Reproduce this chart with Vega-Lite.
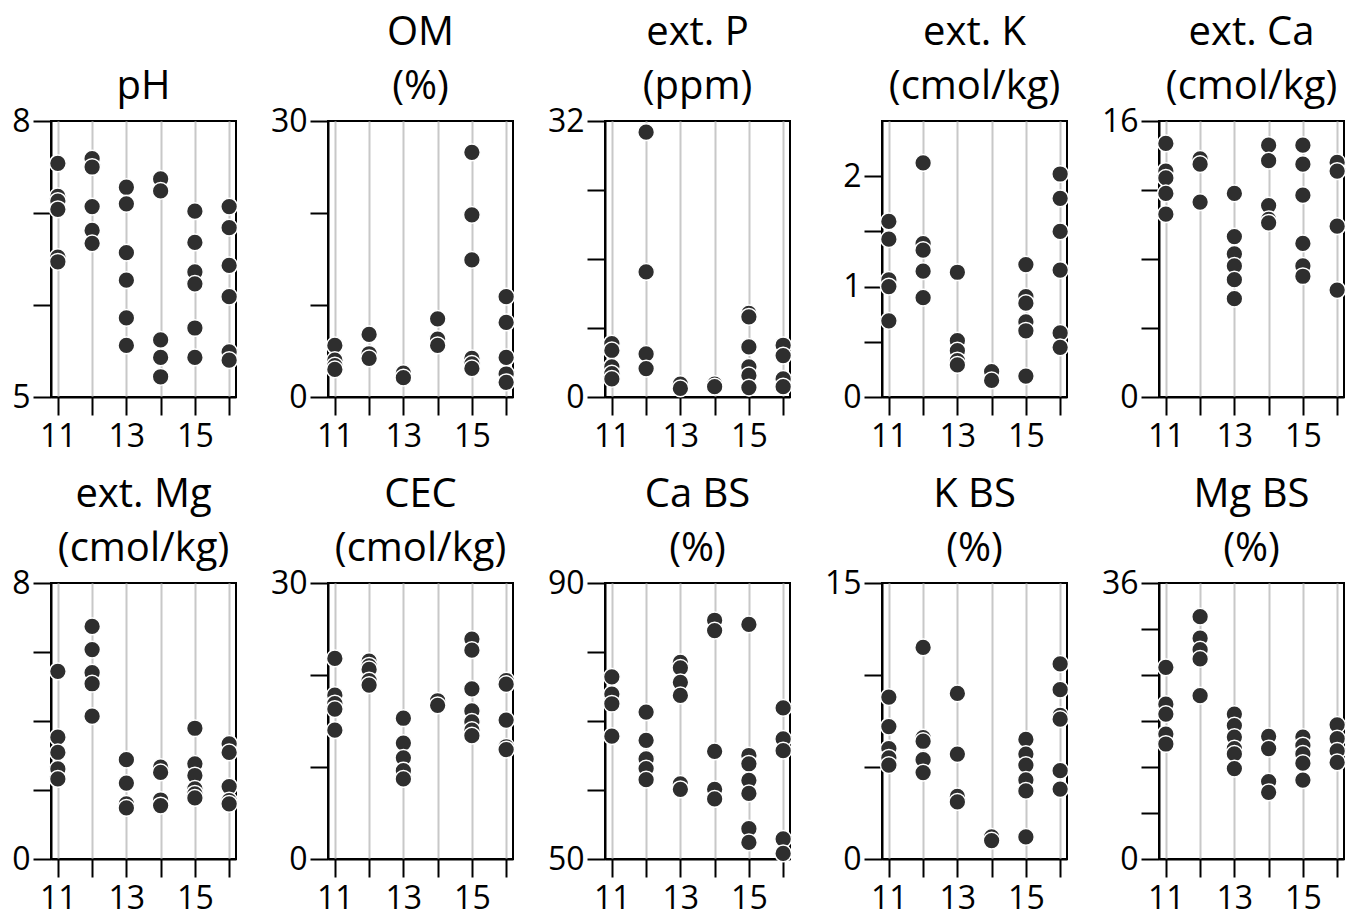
{
  "$schema": "https://vega.github.io/schema/vega-lite/v6.json",
  "background": "white",
  "padding": {"left": 10, "top": 12, "right": 5, "bottom": 56},
  "datasets": {
    "pH": [
      {"yr": 11, "v": 7.54}, {"yr": 11, "v": 7.18}, {"yr": 11, "v": 7.13}, {"yr": 11, "v": 7.04}, {"yr": 11, "v": 6.52}, {"yr": 11, "v": 6.47},
      {"yr": 12, "v": 7.59}, {"yr": 12, "v": 7.5}, {"yr": 12, "v": 7.07}, {"yr": 12, "v": 6.81}, {"yr": 12, "v": 6.67},
      {"yr": 13, "v": 7.28}, {"yr": 13, "v": 7.1}, {"yr": 13, "v": 6.57}, {"yr": 13, "v": 6.27}, {"yr": 13, "v": 5.86}, {"yr": 13, "v": 5.56},
      {"yr": 14, "v": 7.37}, {"yr": 14, "v": 7.24}, {"yr": 14, "v": 5.62}, {"yr": 14, "v": 5.43}, {"yr": 14, "v": 5.22},
      {"yr": 15, "v": 7.02}, {"yr": 15, "v": 6.68}, {"yr": 15, "v": 6.36}, {"yr": 15, "v": 6.23}, {"yr": 15, "v": 5.75}, {"yr": 15, "v": 5.43},
      {"yr": 16, "v": 7.07}, {"yr": 16, "v": 6.84}, {"yr": 16, "v": 6.43}, {"yr": 16, "v": 6.09}, {"yr": 16, "v": 5.49}, {"yr": 16, "v": 5.4}
    ],
    "OM": [
      {"yr": 11, "v": 5.6}, {"yr": 11, "v": 4.0}, {"yr": 11, "v": 3.4}, {"yr": 11, "v": 3.0},
      {"yr": 12, "v": 6.8}, {"yr": 12, "v": 4.7}, {"yr": 12, "v": 4.2},
      {"yr": 13, "v": 2.6}, {"yr": 13, "v": 2.1},
      {"yr": 14, "v": 8.5}, {"yr": 14, "v": 6.3}, {"yr": 14, "v": 5.6},
      {"yr": 15, "v": 26.6}, {"yr": 15, "v": 19.8}, {"yr": 15, "v": 14.9}, {"yr": 15, "v": 4.2}, {"yr": 15, "v": 3.6}, {"yr": 15, "v": 3.1},
      {"yr": 16, "v": 10.9}, {"yr": 16, "v": 8.1}, {"yr": 16, "v": 4.3}, {"yr": 16, "v": 2.5}, {"yr": 16, "v": 1.6}
    ],
    "P": [
      {"yr": 11, "v": 6.2}, {"yr": 11, "v": 5.4}, {"yr": 11, "v": 3.5}, {"yr": 11, "v": 2.7}, {"yr": 11, "v": 2.1},
      {"yr": 12, "v": 30.7}, {"yr": 12, "v": 14.5}, {"yr": 12, "v": 5.0}, {"yr": 12, "v": 3.3},
      {"yr": 13, "v": 1.5}, {"yr": 13, "v": 1.0},
      {"yr": 14, "v": 1.5}, {"yr": 14, "v": 1.2},
      {"yr": 15, "v": 9.7}, {"yr": 15, "v": 9.3}, {"yr": 15, "v": 5.8}, {"yr": 15, "v": 3.5}, {"yr": 15, "v": 2.5}, {"yr": 15, "v": 1.1},
      {"yr": 16, "v": 6.0}, {"yr": 16, "v": 4.8}, {"yr": 16, "v": 2.1}, {"yr": 16, "v": 1.2}
    ],
    "K": [
      {"yr": 11, "v": 1.59}, {"yr": 11, "v": 1.43}, {"yr": 11, "v": 1.06}, {"yr": 11, "v": 1.0}, {"yr": 11, "v": 0.69},
      {"yr": 12, "v": 2.12}, {"yr": 12, "v": 1.39}, {"yr": 12, "v": 1.33}, {"yr": 12, "v": 1.14}, {"yr": 12, "v": 0.9},
      {"yr": 13, "v": 1.13}, {"yr": 13, "v": 0.51}, {"yr": 13, "v": 0.42}, {"yr": 13, "v": 0.33}, {"yr": 13, "v": 0.29},
      {"yr": 14, "v": 0.23}, {"yr": 14, "v": 0.15},
      {"yr": 15, "v": 1.2}, {"yr": 15, "v": 0.91}, {"yr": 15, "v": 0.85}, {"yr": 15, "v": 0.68}, {"yr": 15, "v": 0.6}, {"yr": 15, "v": 0.19},
      {"yr": 16, "v": 2.02}, {"yr": 16, "v": 1.8}, {"yr": 16, "v": 1.5}, {"yr": 16, "v": 1.15}, {"yr": 16, "v": 0.58}, {"yr": 16, "v": 0.45}
    ],
    "Ca": [
      {"yr": 11, "v": 14.7}, {"yr": 11, "v": 13.1}, {"yr": 11, "v": 12.7}, {"yr": 11, "v": 11.8}, {"yr": 11, "v": 10.6},
      {"yr": 12, "v": 13.8}, {"yr": 12, "v": 13.5}, {"yr": 12, "v": 11.3},
      {"yr": 13, "v": 11.8}, {"yr": 13, "v": 9.3}, {"yr": 13, "v": 8.3}, {"yr": 13, "v": 7.6}, {"yr": 13, "v": 6.8}, {"yr": 13, "v": 5.7},
      {"yr": 14, "v": 14.6}, {"yr": 14, "v": 13.7}, {"yr": 14, "v": 11.1}, {"yr": 14, "v": 10.3}, {"yr": 14, "v": 10.1},
      {"yr": 15, "v": 14.6}, {"yr": 15, "v": 13.5}, {"yr": 15, "v": 11.7}, {"yr": 15, "v": 8.9}, {"yr": 15, "v": 7.6}, {"yr": 15, "v": 7.0},
      {"yr": 16, "v": 13.6}, {"yr": 16, "v": 13.1}, {"yr": 16, "v": 9.9}, {"yr": 16, "v": 6.2}
    ],
    "Mg": [
      {"yr": 11, "v": 5.44}, {"yr": 11, "v": 3.53}, {"yr": 11, "v": 3.09}, {"yr": 11, "v": 2.61}, {"yr": 11, "v": 2.32},
      {"yr": 12, "v": 6.74}, {"yr": 12, "v": 6.07}, {"yr": 12, "v": 5.4}, {"yr": 12, "v": 5.08}, {"yr": 12, "v": 4.14},
      {"yr": 13, "v": 2.88}, {"yr": 13, "v": 2.2}, {"yr": 13, "v": 1.6}, {"yr": 13, "v": 1.48},
      {"yr": 14, "v": 2.66}, {"yr": 14, "v": 2.51}, {"yr": 14, "v": 1.71}, {"yr": 14, "v": 1.55},
      {"yr": 15, "v": 3.79}, {"yr": 15, "v": 2.76}, {"yr": 15, "v": 2.42}, {"yr": 15, "v": 2.03}, {"yr": 15, "v": 1.89}, {"yr": 15, "v": 1.77},
      {"yr": 16, "v": 3.34}, {"yr": 16, "v": 3.09}, {"yr": 16, "v": 2.1}, {"yr": 16, "v": 1.69}, {"yr": 16, "v": 1.6}
    ],
    "CEC": [
      {"yr": 11, "v": 21.8}, {"yr": 11, "v": 17.8}, {"yr": 11, "v": 16.9}, {"yr": 11, "v": 16.3}, {"yr": 11, "v": 14.0},
      {"yr": 12, "v": 21.5}, {"yr": 12, "v": 21.0}, {"yr": 12, "v": 20.6}, {"yr": 12, "v": 19.4}, {"yr": 12, "v": 18.9},
      {"yr": 13, "v": 15.3}, {"yr": 13, "v": 12.6}, {"yr": 13, "v": 11.0}, {"yr": 13, "v": 9.6}, {"yr": 13, "v": 8.7},
      {"yr": 14, "v": 17.2}, {"yr": 14, "v": 16.7},
      {"yr": 15, "v": 23.9}, {"yr": 15, "v": 22.7}, {"yr": 15, "v": 18.5}, {"yr": 15, "v": 16.1}, {"yr": 15, "v": 14.9}, {"yr": 15, "v": 14.0}, {"yr": 15, "v": 13.4},
      {"yr": 16, "v": 19.4}, {"yr": 16, "v": 19.0}, {"yr": 16, "v": 15.1}, {"yr": 16, "v": 12.2}, {"yr": 16, "v": 11.9}
    ],
    "CaBS": [
      {"yr": 11, "v": 76.4}, {"yr": 11, "v": 73.9}, {"yr": 11, "v": 72.5}, {"yr": 11, "v": 67.8},
      {"yr": 12, "v": 71.3}, {"yr": 12, "v": 67.2}, {"yr": 12, "v": 64.5}, {"yr": 12, "v": 63.1}, {"yr": 12, "v": 61.5},
      {"yr": 13, "v": 78.5}, {"yr": 13, "v": 77.7}, {"yr": 13, "v": 75.6}, {"yr": 13, "v": 73.7}, {"yr": 13, "v": 60.9}, {"yr": 13, "v": 60.1},
      {"yr": 14, "v": 84.6}, {"yr": 14, "v": 83.1}, {"yr": 14, "v": 65.6}, {"yr": 14, "v": 60.1}, {"yr": 14, "v": 58.7},
      {"yr": 15, "v": 84.0}, {"yr": 15, "v": 65.0}, {"yr": 15, "v": 63.8}, {"yr": 15, "v": 61.4}, {"yr": 15, "v": 59.5}, {"yr": 15, "v": 54.4}, {"yr": 15, "v": 52.4},
      {"yr": 16, "v": 71.9}, {"yr": 16, "v": 67.4}, {"yr": 16, "v": 65.7}, {"yr": 16, "v": 52.9}, {"yr": 16, "v": 50.8}
    ],
    "KBS": [
      {"yr": 11, "v": 8.8}, {"yr": 11, "v": 7.2}, {"yr": 11, "v": 6.0}, {"yr": 11, "v": 5.5}, {"yr": 11, "v": 5.1},
      {"yr": 12, "v": 11.5}, {"yr": 12, "v": 6.6}, {"yr": 12, "v": 6.4}, {"yr": 12, "v": 5.4}, {"yr": 12, "v": 4.7},
      {"yr": 13, "v": 9.0}, {"yr": 13, "v": 5.7}, {"yr": 13, "v": 3.4}, {"yr": 13, "v": 3.1},
      {"yr": 14, "v": 1.2}, {"yr": 14, "v": 1.0},
      {"yr": 15, "v": 6.5}, {"yr": 15, "v": 5.7}, {"yr": 15, "v": 5.1}, {"yr": 15, "v": 4.3}, {"yr": 15, "v": 3.7}, {"yr": 15, "v": 1.2},
      {"yr": 16, "v": 10.6}, {"yr": 16, "v": 9.2}, {"yr": 16, "v": 7.8}, {"yr": 16, "v": 7.6}, {"yr": 16, "v": 4.8}, {"yr": 16, "v": 3.8}
    ],
    "MgBS": [
      {"yr": 11, "v": 25.0}, {"yr": 11, "v": 20.2}, {"yr": 11, "v": 18.9}, {"yr": 11, "v": 16.3}, {"yr": 11, "v": 15.0},
      {"yr": 12, "v": 31.6}, {"yr": 12, "v": 28.8}, {"yr": 12, "v": 27.3}, {"yr": 12, "v": 26.1}, {"yr": 12, "v": 21.3},
      {"yr": 13, "v": 18.9}, {"yr": 13, "v": 17.4}, {"yr": 13, "v": 15.9}, {"yr": 13, "v": 14.4}, {"yr": 13, "v": 13.7}, {"yr": 13, "v": 11.8},
      {"yr": 14, "v": 16.0}, {"yr": 14, "v": 14.4}, {"yr": 14, "v": 10.1}, {"yr": 14, "v": 8.7},
      {"yr": 15, "v": 15.9}, {"yr": 15, "v": 14.8}, {"yr": 15, "v": 13.7}, {"yr": 15, "v": 12.5}, {"yr": 15, "v": 10.3},
      {"yr": 16, "v": 17.5}, {"yr": 16, "v": 15.7}, {"yr": 16, "v": 14.1}, {"yr": 16, "v": 12.6}
    ]
  },
  "config": {
    "font": "Open Sans",
    "view": {"stroke": "black", "strokeWidth": 2},
    "axis": {
      "domainColor": "black", "domainWidth": 2,
      "tickColor": "black", "tickWidth": 2, "tickSize": 18,
      "labelFont": "Open Sans", "labelFontSize": 32, "labelColor": "black",
      "labelPadding": 3, "title": null, "labelFlush": false, "labelOverlap": false, "format": "d"
    },
    "axisX": {"grid": true, "gridColor": "#c8c8c8", "gridWidth": 2, "values": [11, 12, 13, 14, 15, 16], "labelExpr": "datum.value % 2 == 1 ? datum.label : ''", "labelPadding": 6},
    "axisY": {"grid": false},
    "title": {"font": "Open Sans", "fontSize": 40, "fontWeight": "normal", "color": "black", "anchor": "middle", "baseline": "alphabetic", "lineHeight": 54, "offset": -2},
    "point": {"filled": true, "color": "#2e2e2e", "stroke": "white", "strokeWidth": 1.5, "strokeOpacity": 1, "opacity": 1, "size": 280}
  },
  "vconcat": [
    {
      "hconcat": [
        {
          "title": {"text": ["pH"]},
          "data": {"name": "pH"}, "mark": "point", "width": 185, "height": 276,
          "encoding": {
            "x": {"field": "yr", "type": "quantitative", "scale": {"domain": [10.8, 16.2], "nice": false, "zero": false}},
            "y": {"field": "v", "type": "quantitative", "scale": {"domain": [5, 8], "nice": false, "zero": false}, "axis": {"values": [5, 6, 7, 8], "labelExpr": "datum.value == 5 || datum.value == 8 ? datum.label : ''"}}
          }
        },
        {
          "title": {"text": ["OM", "(%)"]},
          "data": {"name": "OM"}, "mark": "point", "width": 185, "height": 276,
          "encoding": {
            "x": {"field": "yr", "type": "quantitative", "scale": {"domain": [10.8, 16.2], "nice": false, "zero": false}},
            "y": {"field": "v", "type": "quantitative", "scale": {"domain": [0, 30], "nice": false}, "axis": {"values": [0, 10, 20, 30], "labelExpr": "datum.value == 0 || datum.value == 30 ? datum.label : ''"}}
          }
        },
        {
          "title": {"text": ["ext. P", "(ppm)"]},
          "data": {"name": "P"}, "mark": "point", "width": 185, "height": 276,
          "encoding": {
            "x": {"field": "yr", "type": "quantitative", "scale": {"domain": [10.8, 16.2], "nice": false, "zero": false}},
            "y": {"field": "v", "type": "quantitative", "scale": {"domain": [0, 32], "nice": false}, "axis": {"values": [0, 8, 16, 24, 32], "labelExpr": "datum.value == 0 || datum.value == 32 ? datum.label : ''"}}
          }
        },
        {
          "title": {"text": ["ext. K", "(cmol/kg)"], "offset": 14},
          "data": {"name": "K"}, "mark": "point", "width": 185, "height": 276,
          "encoding": {
            "x": {"field": "yr", "type": "quantitative", "scale": {"domain": [10.8, 16.2], "nice": false, "zero": false}},
            "y": {"field": "v", "type": "quantitative", "scale": {"domain": [0, 2.5], "nice": false}, "axis": {"values": [0, 0.5, 1, 1.5, 2], "labelExpr": "datum.value == 0 || datum.value == 1 || datum.value == 2 ? datum.label : ''"}}
          }
        },
        {
          "title": {"text": ["ext. Ca", "(cmol/kg)"]},
          "data": {"name": "Ca"}, "mark": "point", "width": 185, "height": 276,
          "encoding": {
            "x": {"field": "yr", "type": "quantitative", "scale": {"domain": [10.8, 16.2], "nice": false, "zero": false}},
            "y": {"field": "v", "type": "quantitative", "scale": {"domain": [0, 16], "nice": false}, "axis": {"values": [0, 4, 8, 12, 16], "labelExpr": "datum.value == 0 || datum.value == 16 ? datum.label : ''"}}
          }
        }
      ],
      "bounds": "flush", "spacing": 92
    },
    {
      "hconcat": [
        {
          "title": {"text": ["ext. Mg", "(cmol/kg)"]},
          "data": {"name": "Mg"}, "mark": "point", "width": 185, "height": 276,
          "encoding": {
            "x": {"field": "yr", "type": "quantitative", "scale": {"domain": [10.8, 16.2], "nice": false, "zero": false}},
            "y": {"field": "v", "type": "quantitative", "scale": {"domain": [0, 8], "nice": false}, "axis": {"values": [0, 2, 4, 6, 8], "labelExpr": "datum.value == 0 || datum.value == 8 ? datum.label : ''"}}
          }
        },
        {
          "title": {"text": ["CEC", "(cmol/kg)"]},
          "data": {"name": "CEC"}, "mark": "point", "width": 185, "height": 276,
          "encoding": {
            "x": {"field": "yr", "type": "quantitative", "scale": {"domain": [10.8, 16.2], "nice": false, "zero": false}},
            "y": {"field": "v", "type": "quantitative", "scale": {"domain": [0, 30], "nice": false}, "axis": {"values": [0, 10, 20, 30], "labelExpr": "datum.value == 0 || datum.value == 30 ? datum.label : ''"}}
          }
        },
        {
          "title": {"text": ["Ca BS", "(%)"]},
          "data": {"name": "CaBS"}, "mark": "point", "width": 185, "height": 276,
          "encoding": {
            "x": {"field": "yr", "type": "quantitative", "scale": {"domain": [10.8, 16.2], "nice": false, "zero": false}},
            "y": {"field": "v", "type": "quantitative", "scale": {"domain": [50, 90], "nice": false, "zero": false}, "axis": {"values": [50, 60, 70, 80, 90], "labelExpr": "datum.value == 50 || datum.value == 90 ? datum.label : ''"}}
          }
        },
        {
          "title": {"text": ["K BS", "(%)"]},
          "data": {"name": "KBS"}, "mark": "point", "width": 185, "height": 276,
          "encoding": {
            "x": {"field": "yr", "type": "quantitative", "scale": {"domain": [10.8, 16.2], "nice": false, "zero": false}},
            "y": {"field": "v", "type": "quantitative", "scale": {"domain": [0, 15], "nice": false}, "axis": {"values": [0, 5, 10, 15], "labelExpr": "datum.value == 0 || datum.value == 15 ? datum.label : ''"}}
          }
        },
        {
          "title": {"text": ["Mg BS", "(%)"]},
          "data": {"name": "MgBS"}, "mark": "point", "width": 185, "height": 276,
          "encoding": {
            "x": {"field": "yr", "type": "quantitative", "scale": {"domain": [10.8, 16.2], "nice": false, "zero": false}},
            "y": {"field": "v", "type": "quantitative", "scale": {"domain": [0, 36], "nice": false}, "axis": {"values": [0, 6, 12, 18, 24, 30, 36], "labelExpr": "datum.value == 0 || datum.value == 36 ? datum.label : ''"}}
          }
        }
      ],
      "bounds": "flush", "spacing": 92
    }
  ],
  "bounds": "flush",
  "spacing": 462
}
